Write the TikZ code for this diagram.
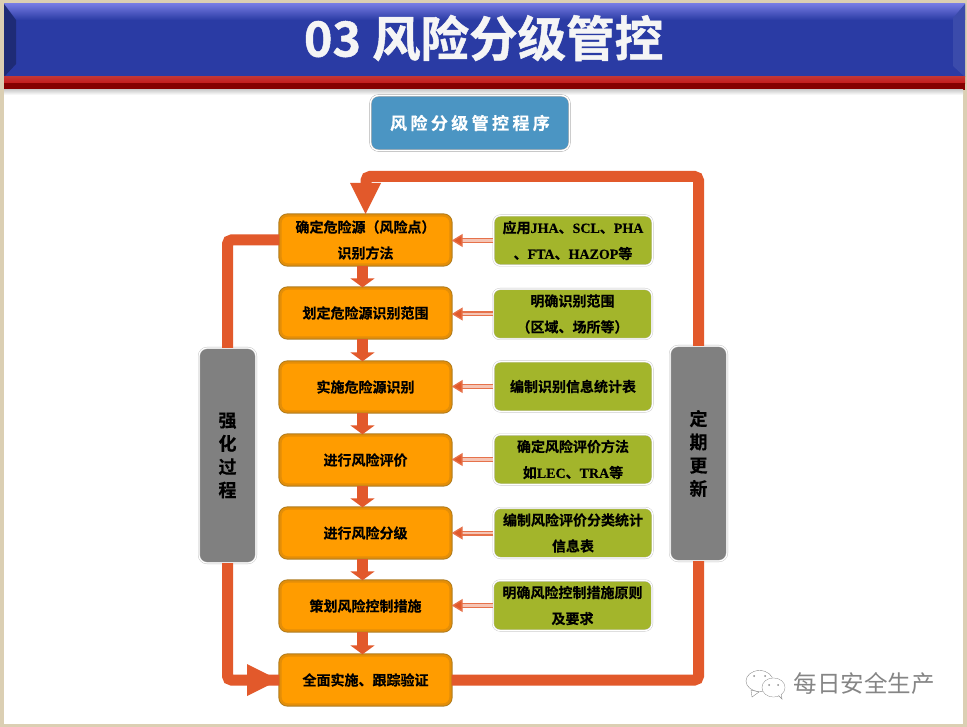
\documentclass[tikz,border=0pt]{standalone}
\usepackage{fontspec}
\usetikzlibrary{arrows.meta,shadows}
\setmainfont{Noto Sans CJK SC}
\newfontfamily\cjkbold[FakeBold=0.4]{Noto Sans CJK SC Bold}
\newfontfamily\cjkheavy[FakeBold=1]{Noto Sans CJK SC Bold}
\newfontfamily\cjkspaced[LetterSpace=20,FakeBold=0.3]{Noto Sans CJK SC Bold}
\newfontfamily\cjkplain{Noto Sans CJK SC}
\newfontfamily\latinbold[FakeBold=0.3]{Liberation Serif Bold}
\definecolor{paper}{HTML}{DBCFB3}
\definecolor{navy}{HTML}{2A3BA4}
\definecolor{flow}{HTML}{E2592B}
\definecolor{amber}{HTML}{FF9C00}
\definecolor{amberrim}{HTML}{E48E08}
\definecolor{amberline}{HTML}{AE7A1C}
\definecolor{olive}{HTML}{A3B52B}
\definecolor{slate}{HTML}{808080}
\definecolor{steel}{HTML}{4B95C3}
\tikzset{
  stepbox/.style={rectangle, rounded corners=7pt, draw=amberrim, line width=2.4pt,
    preaction={draw=amberline, line width=4.2pt}, fill=amber,
    minimum width=170pt, minimum height=49pt, inner sep=0pt,
    align=center, font=\cjkbold\fontsize{14}{26}\selectfont,
    drop shadow={opacity=.25, shadow xshift=0pt, shadow yshift=-1pt}},
  notebox/.style={rectangle, rounded corners=7pt, draw=black!22, double=white, double distance=1.2pt,
    fill=olive, minimum width=159pt, minimum height=50pt, inner sep=0pt, align=center,
    font=\cjkbold\fontsize{14}{26}\selectfont},
  sidebox/.style={rectangle, rounded corners=8pt, draw=black!25, double=white, double distance=1.2pt,
    fill=slate, minimum width=57pt, minimum height=215pt, inner sep=0pt, align=center,
    font=\cjkbold\fontsize{18}{23.3}\selectfont},
  loopline/.style={draw=flow, line width=11pt, rounded corners=4pt},
  nextarrow/.style={draw=flow, line width=11.5pt, -{Triangle[length=9pt,width=24pt,fill=flow]}},
  notearrow/.style={draw=flow!85, line width=1.3pt, double=flow!35, double distance=2.4pt,
    -{Triangle[length=11pt,width=13pt,fill=flow]}},
}
\newcommand{\lat}[1]{{\latinbold #1}}
\begin{document}
\begin{tikzpicture}[x=1pt,y=-1pt]
\useasboundingbox (0,0) rectangle (967,727);
% page and header band
\fill[paper] (0,0) rectangle (967,727);
\fill[white] (4,88) rectangle (963,724);
\fill[navy] (4,4) rectangle (965,77);
\shade[top color=navy!55!blue!60!white, bottom color=navy] (4,4) rectangle (965,20);
\fill[navy!72!black] (4,4) -- (16,20) -- (16,64) -- (4,77) -- cycle;
\fill[navy!92!white] (953,18) -- (965,4) -- (965,77) -- (953,66) -- cycle;
\shade[top color=red!70!black!80!white, bottom color=red!75!black!90!white] (4,77) rectangle (965,83.5);
\fill[red!52!black] (4,83.5) rectangle (965,90);
\shade[top color=black!18, bottom color=white] (4,90) rectangle (963,95);
\node[text=white!96!black, inner sep=0pt, font=\cjkheavy\fontsize{48.5}{48}\selectfont] (title) at (483.5,38) {03 风险分级管控};

\node[rectangle, rounded corners=8pt, draw=black!35, double=white, double distance=1.4pt, fill=steel,
  minimum width=199pt, minimum height=55pt, inner sep=0pt, text=white,
  font=\cjkspaced\fontsize{17}{20}\selectfont,
  drop shadow={opacity=.2, shadow xshift=0pt, shadow yshift=-1pt}] (program) at (470,123) {风险分级管控程序};

% main steps
\node[stepbox] (s1) at (365.5,240) {确定危险源（风险点）\\识别方法};
\node[stepbox] (s2) at (365.5,313) {划定危险源识别范围};
\node[stepbox] (s3) at (365.5,387) {实施危险源识别};
\node[stepbox] (s4) at (365.5,460) {进行风险评价};
\node[stepbox] (s5) at (365.5,533) {进行风险分级};
\node[stepbox] (s6) at (365.5,606) {策划风险控制措施};
\node[stepbox] (s7) at (365.5,680) {全面实施、跟踪验证};

% notes on the right of the steps
\node[notebox] (n1) at (573,240.5) {应用\lat{JHA}、\lat{SCL}、\lat{PHA}\\、\lat{FTA}、\lat{HAZOP}等};
\node[notebox] (n2) at (572.5,314) {明确识别范围\\（区域、场所等）};
\node[notebox] (n3) at (573,386.5) {编制识别信息统计表};
\node[notebox] (n4) at (573,459.5) {确定风险评价方法\\如\lat{LEC}、\lat{TRA}等};
\node[notebox] (n5) at (573,533) {编制风险评价分类统计\\信息表};
\node[notebox] (n6) at (572.5,605.5) {明确风险控制措施原则\\及要求};

% side panels
\node[sidebox] (strengthen) at (227.5,455.5) {强\\化\\过\\程};
\node[sidebox] (update) at (698.5,453.5) {定\\期\\更\\新};

\coordinate (topbend) at (366,176.5);
\coordinate (headbase) at (366,184);

% loop lines
\draw[loopline] (update.north) |- (topbend) -- (headbase);
\fill[flow] (350,183) -- (381,183) -- (365.5,214) -- cycle;
\draw[loopline] (s1.west) -| (strengthen.north);
\draw[loopline] (strengthen.south) |- (s7.west);
\fill[flow] (247,664) -- (279,680) -- (247,696) -- cycle;
\draw[loopline] (s7.east) -| (update.south);

% step to step
\foreach \a/\b in {s1/s2, s2/s3, s3/s4, s4/s5, s5/s6, s6/s7}
  \draw[nextarrow] ([xshift=-3pt]\a.south) -- ([xshift=-3pt]\b.north);

% notes to steps
\foreach \i in {1,...,6}
  \draw[notearrow] (n\i.west) -- (n\i.west -| s\i.east);

% account mark
\filldraw[draw=black!45, fill=white, line width=.4pt] (759.5,681) ellipse (13.5pt and 10.5pt);
\filldraw[draw=black!45, fill=white, line width=.4pt] (751,690) -- (752,697) -- (759,692) -- cycle;
\filldraw[draw=black!45, fill=white, line width=.4pt] (773.5,687.5) ellipse (11.5pt and 9.5pt);
\filldraw[draw=black!45, fill=white, line width=.4pt] (778,695) -- (782,699) -- (781,693) -- cycle;
\fill[white] (773.5,687.5) ellipse (11pt and 9pt);
\foreach \ex/\ey in {754/676, 765/676, 769/685, 778/685}
  \fill[black!45] (\ex,\ey) circle (1pt);
\node[text=black!48, inner sep=0pt, font=\cjkplain\fontsize{23.5}{24}\selectfont] (account) at (864,684) {每日安全生产};
\end{tikzpicture}
\end{document}
